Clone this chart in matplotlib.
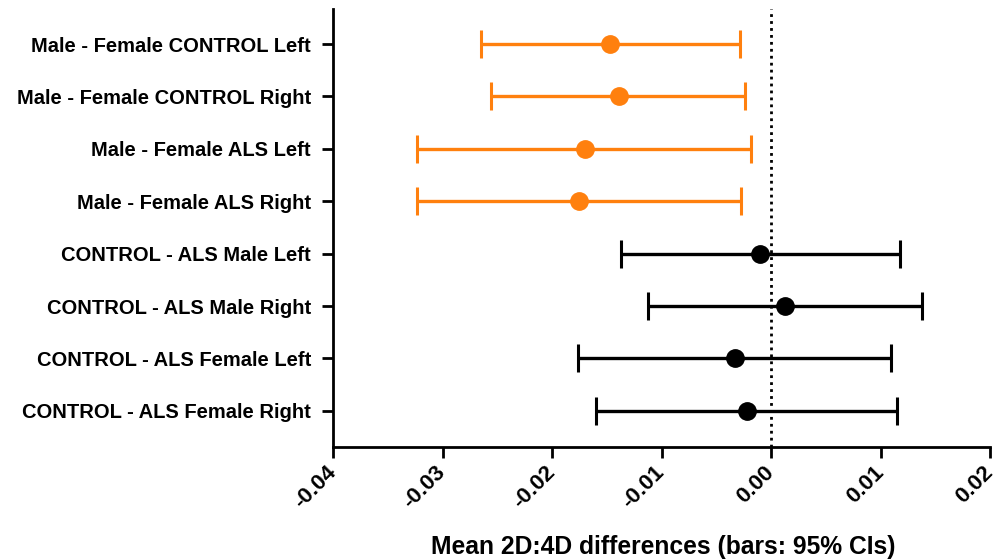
import matplotlib.pyplot as plt

plt.rcParams['font.family'] = ['Liberation Sans', 'DejaVu Sans']

# comparisons, top to bottom
labels = [
    "Male - Female CONTROL Left",
    "Male - Female CONTROL Right",
    "Male - Female ALS Left",
    "Male - Female ALS Right",
    "CONTROL - ALS Male Left",
    "CONTROL - ALS Male Right",
    "CONTROL - ALS Female Left",
    "CONTROL - ALS Female Right",
]
means = [-0.0147, -0.0139, -0.0170, -0.0175, -0.0010, 0.0013, -0.0033, -0.0022]
ci_low = [-0.0265, -0.0256, -0.0323, -0.0323, -0.0137, -0.0112, -0.0176, -0.0160]
ci_high = [-0.0028, -0.0024, -0.0018, -0.0027, 0.0118, 0.0138, 0.0110, 0.0115]
colors = ["#FF800E"] * 4 + ["black"] * 4

fig = plt.figure(figsize=(9.95, 5.6), dpi=100)
ax = fig.add_axes([333 / 995, 113 / 560, 657 / 995, 438 / 560])

for i, (m, lo, hi, c) in enumerate(zip(means, ci_low, ci_high, colors)):
    y = i + 1
    ax.errorbar(m, y, xerr=[[m - lo], [hi - m]], fmt="o", color=c,
                markersize=12.5, elinewidth=2.4, capsize=10, capthick=2.2)

ax.axvline(0, color="black", linestyle=(0, (1, 1.5)), linewidth=2)

ax.set_xlim(-0.04, 0.02)
ax.set_ylim(8.69, 0.33)
ax.set_yticks(range(1, 9))
ax.set_yticklabels(labels, fontsize=14.5, fontweight="bold")
ax.set_xticks([-0.04, -0.03, -0.02, -0.01, 0.0, 0.01, 0.02])
ax.set_xticklabels(["-0.04", "-0.03", "-0.02", "-0.01", "0.00", "0.01", "0.02"],
                   fontsize=16, fontweight="bold", rotation=45, ha="right",
                   va="center", rotation_mode="anchor")
ax.tick_params(axis="both", direction="out", length=8, width=2)
ax.tick_params(axis="y", pad=8)
ax.tick_params(axis="x", pad=8)

for s in ["top", "right"]:
    ax.spines[s].set_visible(False)
for s in ["left", "bottom"]:
    ax.spines[s].set_linewidth(2)

fig.text(663 / 995, 1 - 547 / 560, "Mean 2D:4D differences (bars: 95% CIs)",
         fontsize=17.7, fontweight="bold", ha="center", va="center")

fig.savefig("out.png", dpi=100)
